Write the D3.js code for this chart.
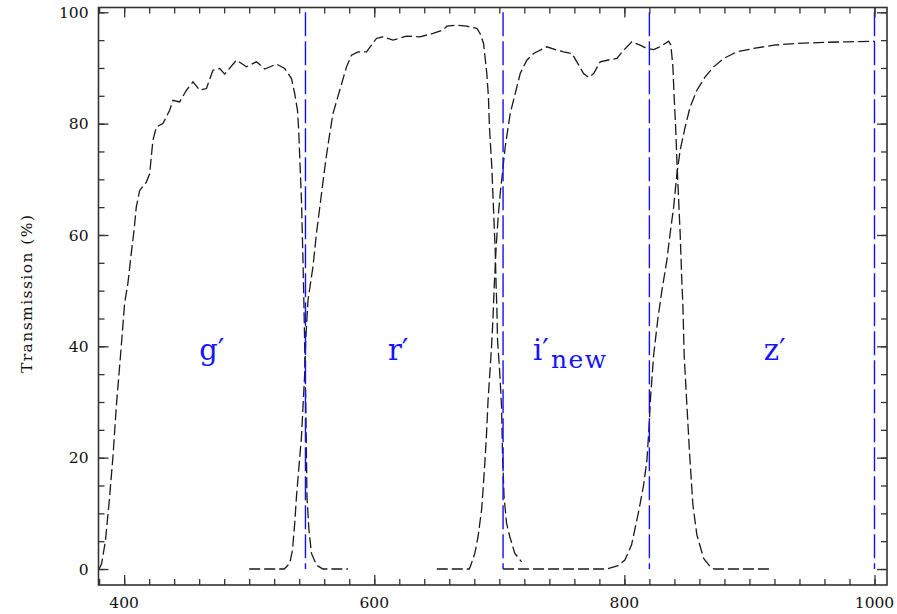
<!DOCTYPE html>
<html>
<head>
<meta charset="utf-8">
<script src="https://cdn.jsdelivr.net/npm/d3@7"></script>
<style>
  html, body { margin: 0; padding: 0; background: #fff; }
  svg { display: block; }
</style>
</head>
<body>
<svg id="chart" width="897" height="614"></svg>
<script>
// ---- data (wavelength nm, transmission %) ----
const gFilter = [[380,0],[382,1],[385,5],[388,12],[391,20],[393.8,29.4],[397.7,40],[400.4,47.8],[403,51.3],[405.7,56.7],[408,61],[409.7,65],[412.4,68],[417.8,69.5],[420.4,71],[423,77],[425.8,79.4],[431,80],[436.4,82.4],[439,84.2],[444.4,83.9],[449.8,86],[455,87.5],[460.4,86],[465.8,86.3],[471,89.6],[476.4,89.9],[480.4,88.9],[489.8,91.4],[497.8,90.2],[505.8,91.1],[512.4,89.8],[521.8,90.7],[528.4,89.9],[533.8,88.1],[536.4,85.4],[538.6,82.4],[539.6,78.8],[540.4,74],[541.8,66.2],[543,55.5],[543.8,47],[544.4,40],[545.2,30],[545.8,20.2],[546.2,13],[547.8,7],[549.8,2.8],[553.8,0.7],[559,0],[579,0]];
const rFilter = [[500,0],[528,0],[532.4,1],[534.6,3.4],[536.4,8.2],[537.8,13],[539.8,18.4],[541.8,23.8],[543,29.1],[544.4,35.1],[545.2,41.1],[547,48.3],[551,54.3],[553.8,60.3],[557.8,67.4],[561.2,73.4],[564.4,78.2],[567,81.8],[572.4,86],[577.8,90.2],[581.8,92.3],[587,92.9],[593.8,92.9],[601.8,95.3],[607,95.6],[615,95],[625.8,95.7],[636.4,95.6],[647,96.2],[655,96.8],[658,97.5],[666,97.7],[674,97.5],[682,97.1],[684.6,96.2],[687.4,94.4],[690,89],[691.3,84.8],[692.1,79.4],[694,72.2],[695.3,65],[696.7,57.3],[697.4,51.3],[698,47.1],[698.6,41.1],[700.4,35.1],[701.8,29.1],[702.6,20.2],[703.8,13],[705.8,8.2],[708.4,5.8],[712.4,2.8],[717.8,1.3]];
const iNewFilter = [[650,0],[676,0],[677.7,1],[680.4,2.8],[683,5.8],[685.8,10.6],[687,14.2],[688.4,19],[689.8,24.4],[691,30.3],[692.4,35.1],[693.8,40],[695,45.3],[695.8,50.1],[697.5,58],[699,63],[700.7,67.4],[704.7,75.8],[708.7,81.8],[712.7,85.4],[716.7,89],[722,91.4],[727.4,92.6],[735.4,93.5],[738,93.8],[746,93.2],[751.4,92.9],[758,92.6],[762,91.1],[767.4,89],[771.4,88.3],[775.4,89],[780.6,91.1],[788.6,91.5],[794,91.7],[799.4,93.2],[806,94.7],[812.6,94.1],[818,93.5],[823.4,93.3],[828.6,93.8],[835.4,94.8],[837.2,94.1],[838.8,90.2],[839.8,84.8],[841,79.4],[842,73.4],[843.4,66.2],[844.6,60.3],[846,51.3],[846.8,47.4],[847.8,38.4],[850,29.4],[852.2,20.5],[854.8,11.5],[858,6.1],[863.4,1.9],[868.7,0.4],[872,0],[918,0]];
const zFilter = [[703,0],[786,0],[795,0.6],[800.4,1.6],[805.7,4.3],[811.4,10.3],[815.4,15.1],[818,19.5],[819.6,25],[821,31],[823.4,38.4],[826.8,45],[830,50],[834,55.5],[836.6,60.3],[839.4,65],[842,71],[844.6,75.2],[848.6,79.4],[852.6,83],[858,86],[864.6,88.4],[871.4,90.2],[879.4,91.7],[890,92.9],[903.4,93.5],[919.4,94.1],[938,94.4],[959.4,94.6],[978,94.7],[1000,94.8]];
const bandEdges = [545, 703, 820, 1000];
const bandNames = ["g′", "r′", "i′", "z′"];
const bandSubs  = ["", "", "new", ""];
const bandLabelAt = [460, 611, 727, 911.5];   // wavelength of label start
const xTickLabels = [400, 600, 800, 1000];
const yTickLabels = [0, 20, 40, 60, 80, 100];
const yTitle = "Transmission  (%)";

// ---- layout ----
const svg = d3.select("#chart");
const L = 98.5, R = 887, T = 7.5, B = 585;
const x = d3.scaleLinear().domain([379.5, 1010]).range([L, R]);
const y = d3.scaleLinear().domain([-2.87, 100.86]).range([B, T]);
const frameColor = "#333";

// curves
const line = d3.line().x(d => x(d[0])).y(d => y(d[1]));
[gFilter, rFilter, iNewFilter, zFilter].forEach(s => {
  svg.append("path").datum(s).attr("d", line)
    .attr("fill", "none").attr("stroke", "#1a1a1a")
    .attr("stroke-width", 1.3).attr("stroke-dasharray", "11,4");
});

// blue boundaries
svg.selectAll("line.edge").data(bandEdges).enter().append("line")
  .attr("class", "edge")
  .attr("x1", d => x(d)).attr("x2", d => x(d))
  .attr("y1", y(100)).attr("y2", y(0))
  .attr("stroke", "#1010ff").attr("stroke-width", 1.4)
  .attr("stroke-dasharray", "24,5");

// band labels
bandNames.forEach((name, i) => {
  const t = svg.append("text")
    .attr("x", x(bandLabelAt[i])).attr("y", y(37.6))
    .attr("font-family", "DejaVu Serif").attr("font-size", 29)
    .attr("fill", "#1515ff").text(name);
  if (bandSubs[i]) {
    t.append("tspan").attr("dy", 8.5).attr("dx", 2)
      .attr("font-size", 25).attr("letter-spacing", 1.5).text(bandSubs[i]);
  }
});

// axes with inward ticks on all sides
const xMinor = d3.range(380, 1011, 20);
const xMajor = xTickLabels;
const yMinor = d3.range(0, 101, 5);
const yMajor = yTickLabels;

function axisX(pos, dir) {
  const g = svg.append("g").attr("transform", `translate(0,${pos})`);
  g.call(d3.axisBottom(x).tickValues(xMinor).tickFormat("")
    .tickSizeInner(dir * 6).tickSizeOuter(0));
  g.append("g").call(d3.axisBottom(x).tickValues(xMajor).tickFormat("")
    .tickSizeInner(dir * 10).tickSizeOuter(0));
  g.selectAll(".domain").remove();
  g.selectAll("line").attr("stroke", frameColor).attr("stroke-width", 1.3);
}
function axisY(pos, dir) {
  const g = svg.append("g").attr("transform", `translate(${pos},0)`);
  g.call(d3.axisLeft(y).tickValues(yMinor).tickFormat("")
    .tickSizeInner(dir * 6).tickSizeOuter(0));
  g.append("g").call(d3.axisLeft(y).tickValues(yMajor).tickFormat("")
    .tickSizeInner(dir * 10).tickSizeOuter(0));
  g.selectAll(".domain").remove();
  g.selectAll("line").attr("stroke", frameColor).attr("stroke-width", 1.3);
}
axisX(B, -1);
axisX(T, 1);
axisY(L, -1);
axisY(R, 1);

svg.append("rect").attr("x", L).attr("y", T)
  .attr("width", R - L).attr("height", B - T)
  .attr("fill", "none").attr("stroke", frameColor).attr("stroke-width", 1.6);

// tick labels
svg.selectAll("text.xl").data(xTickLabels).enter().append("text")
  .attr("class", "xl")
  .attr("x", d => x(d)).attr("y", 608)
  .attr("text-anchor", "middle")
  .attr("font-family", "DejaVu Serif").attr("font-size", 15.5)
  .attr("fill", "#111").text(d => d);

svg.selectAll("text.yl").data(yTickLabels).enter().append("text")
  .attr("class", "yl")
  .attr("x", 88.5).attr("y", d => y(d) + 5.8)
  .attr("text-anchor", "end")
  .attr("font-family", "DejaVu Serif").attr("font-size", 15.5)
  .attr("fill", "#111").text(d => d);

// y title
svg.append("text")
  .attr("transform", "translate(32,294) rotate(-90)")
  .attr("text-anchor", "middle")
  .attr("font-family", "DejaVu Serif").attr("font-size", 15.5)
  .attr("textLength", 158).attr("lengthAdjust", "spacing")
  .attr("fill", "#111").text(yTitle);
</script>
</body>
</html>
